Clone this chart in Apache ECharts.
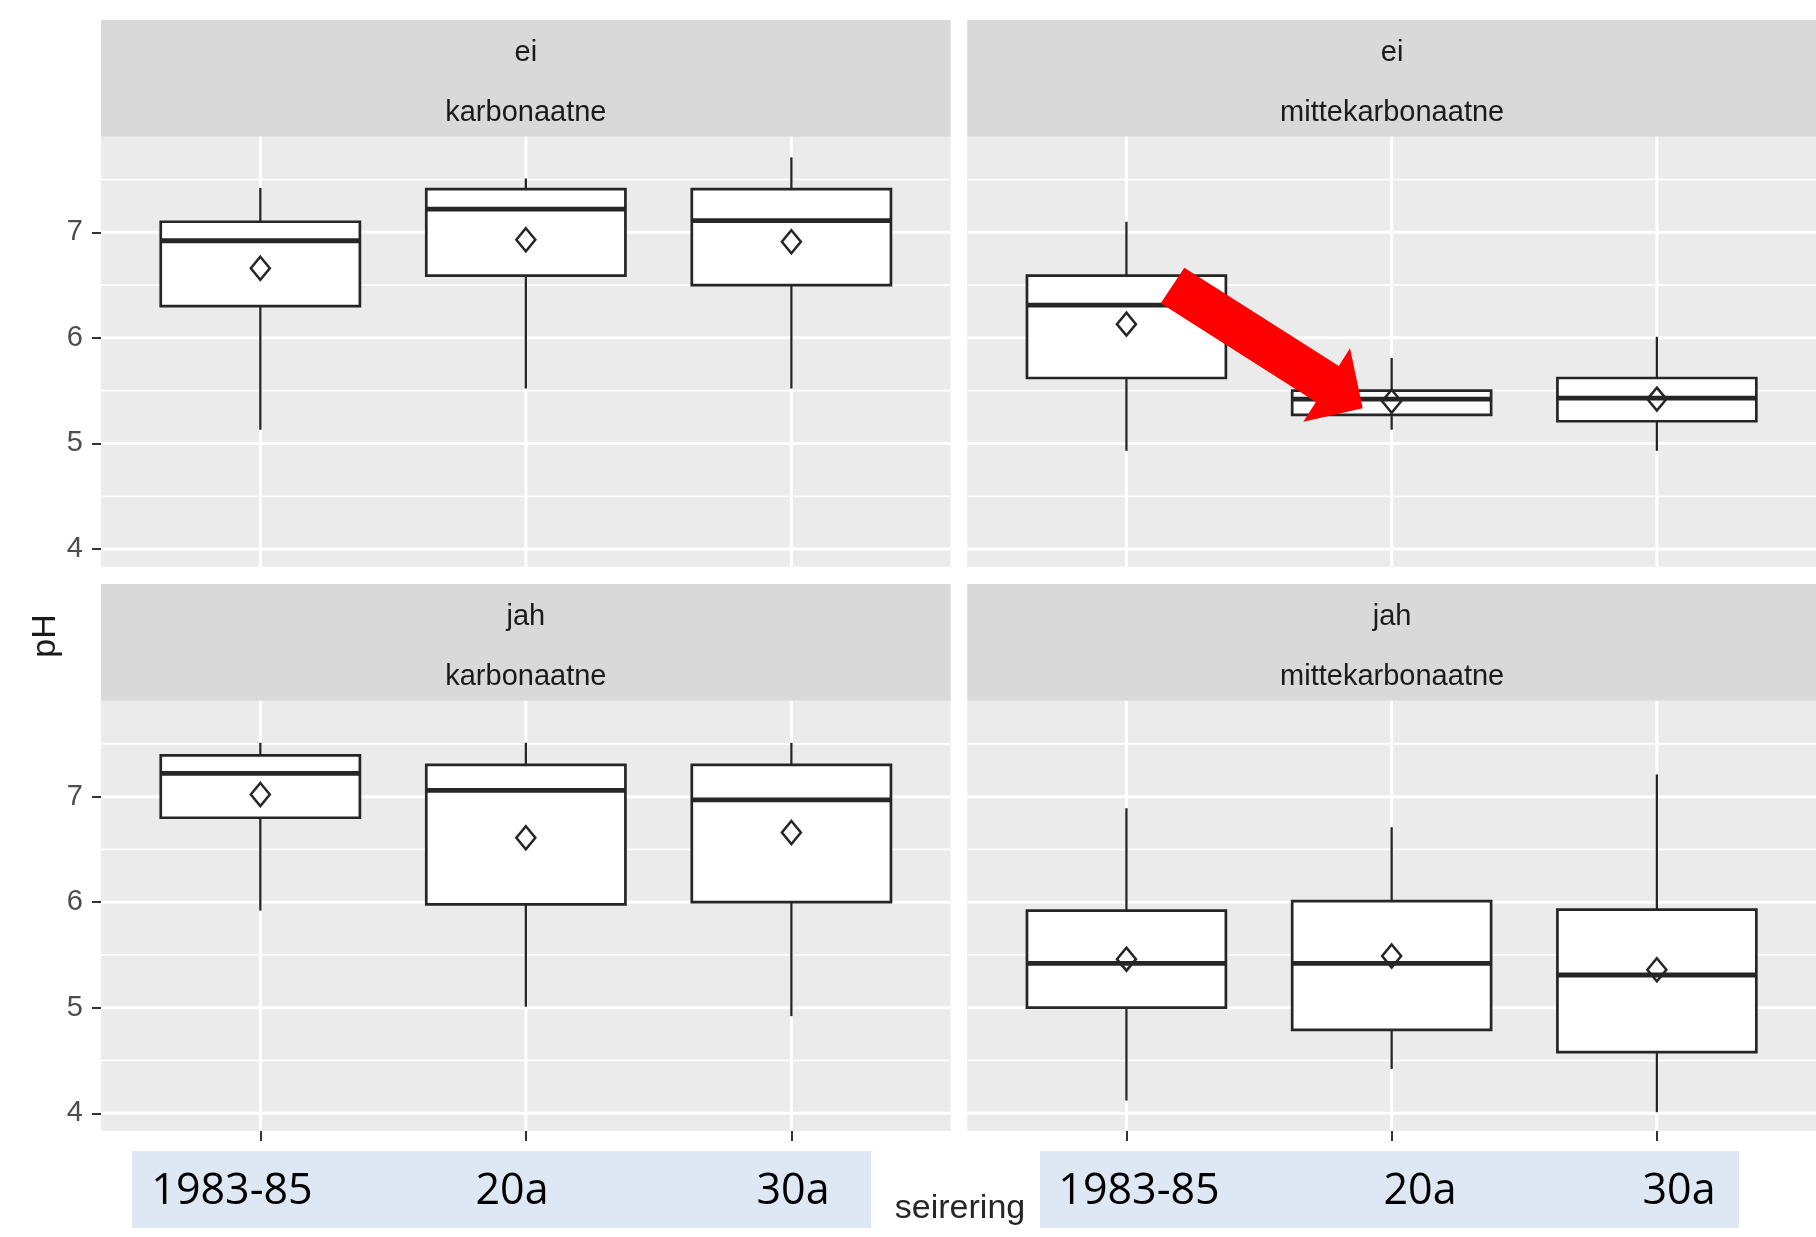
<!DOCTYPE html>
<html>
<head>
<meta charset="utf-8">
<script src="https://cdn.jsdelivr.net/npm/echarts@6/dist/echarts.min.js"></script>
<style>
  html, body { margin: 0; padding: 0; background: #ffffff; }
  #chart { width: 1816px; height: 1237px; }
</style>
</head>
<body>
<div id="chart"></div>
<script>
// Monitoring periods (x categories) and facet labels
const periods = ['1983-85', '20a', '30a'];
const rowLabels = ['ei', 'jah'];
const colLabels = ['karbonaatne', 'mittekarbonaatne'];
const yTicks = [4, 5, 6, 7];
const yMinor = [4.5, 5.5, 6.5, 7.5];

// Box statistics per period: [lower whisker, Q1, median, Q3, upper whisker]
const eiKarbBox = [[5.13, 6.30, 6.92, 7.10, 7.42], [5.52, 6.59, 7.22, 7.41, 7.51], [5.52, 6.50, 7.11, 7.41, 7.71]];
const eiKarbMean = [6.66, 6.93, 6.91];
const eiMitteBox = [[4.93, 5.62, 6.31, 6.59, 7.10], [5.13, 5.27, 5.42, 5.50, 5.81], [4.93, 5.21, 5.43, 5.62, 6.01]];
const eiMitteMean = [6.13, 5.40, 5.42];
const jahKarbBox = [[5.92, 6.80, 7.22, 7.39, 7.51], [5.01, 5.98, 7.06, 7.30, 7.51], [4.92, 6.00, 6.97, 7.30, 7.51]];
const jahKarbMean = [7.02, 6.61, 6.66];
const jahMitteBox = [[4.12, 5.00, 5.42, 5.92, 6.89], [4.42, 4.79, 5.42, 6.01, 6.71], [4.01, 4.58, 5.31, 5.93, 7.21]];
const jahMitteMean = [5.46, 5.49, 5.36];

const panels = [
  { row: 0, col: 0, box: eiKarbBox, mean: eiKarbMean },
  { row: 0, col: 1, box: eiMitteBox, mean: eiMitteMean },
  { row: 1, col: 0, box: jahKarbBox, mean: jahKarbMean },
  { row: 1, col: 1, box: jahMitteBox, mean: jahMitteMean }
];

// Facet layout (pixels)
const panelLeft = [101, 967.3];
const panelWidth = 849.7;
const stripTop = [20, 584];
const stripH = 116.7;
const panelTop = [136.7, 701];
const panelH = 430;

const Y_MIN = 3.832, Y_MAX = 7.906;
const X_MIN = 0.4, X_MAX = 3.6;
const INK = '#262626';
const BASE_FONT = '"Liberation Sans", Arial, sans-serif';

const chart = echarts.init(document.getElementById('chart'), null, { renderer: 'canvas' });

const grids = [], xAxes = [], yAxes = [], series = [];

// Background grid lines drawn through the axis scales
function gridRenderer(params, api) {
  const cs = params.coordSys;
  const kind = api.value(0);
  const v = api.value(1);
  if (kind === 2) {
    const p = api.coord([v, 5]);
    return { type: 'line', shape: { x1: p[0], y1: cs.y, x2: p[0], y2: cs.y + cs.height },
      style: { stroke: '#ffffff', lineWidth: 3 } };
  }
  const p = api.coord([1, v]);
  return { type: 'line', shape: { x1: cs.x, y1: p[1], x2: cs.x + cs.width, y2: p[1] },
    style: { stroke: '#ffffff', lineWidth: kind === 0 ? 3 : 1.6 } };
}

// Box, whiskers, median and mean marker
function boxRenderer(params, api) {
  const x = api.value(0);
  const half = api.size([0.75, 0])[0] / 2;
  const at = (i) => api.coord([x, api.value(i)]);
  const pLow = at(1), pQ1 = at(2), pMed = at(3), pQ3 = at(4), pHigh = at(5), pMean = at(6);
  const cx = pLow[0];
  const dw = 9.5, dh = 11.5;
  return {
    type: 'group',
    children: [
      { type: 'line', shape: { x1: cx, y1: pLow[1], x2: cx, y2: pQ1[1] }, style: { stroke: INK, lineWidth: 2.3 } },
      { type: 'line', shape: { x1: cx, y1: pQ3[1], x2: cx, y2: pHigh[1] }, style: { stroke: INK, lineWidth: 2.3 } },
      { type: 'rect', shape: { x: cx - half, y: pQ3[1], width: 2 * half, height: pQ1[1] - pQ3[1] },
        style: { fill: '#ffffff', stroke: INK, lineWidth: 2.7 } },
      { type: 'line', shape: { x1: cx - half, y1: pMed[1], x2: cx + half, y2: pMed[1] }, style: { stroke: INK, lineWidth: 4.8 } },
      { type: 'polygon', shape: { points: [[pMean[0], pMean[1] - dh], [pMean[0] + dw, pMean[1]], [pMean[0], pMean[1] + dh], [pMean[0] - dw, pMean[1]]] },
        style: { fill: 'none', stroke: INK, lineWidth: 2.5 } }
    ]
  };
}

const gridLineData = [];
yTicks.forEach(v => gridLineData.push([0, v]));
yMinor.forEach(v => gridLineData.push([1, v]));
periods.forEach((p, i) => gridLineData.push([2, i + 1]));

panels.forEach((pn, idx) => {
  const isLeft = pn.col === 0;
  const isBottom = pn.row === 1;
  grids.push({ left: panelLeft[pn.col], top: panelTop[pn.row], width: panelWidth, height: panelH,
    show: true, backgroundColor: '#ebebeb', borderWidth: 0 });
  xAxes.push({
    type: 'value', gridIndex: idx, min: X_MIN, max: X_MAX,
    axisLine: { show: false }, splitLine: { show: false },
    axisTick: { show: isBottom, customValues: [1, 2, 3], length: 10, lineStyle: { color: '#333333', width: 2 } },
    axisLabel: { show: false }
  });
  yAxes.push({
    type: 'value', gridIndex: idx, min: Y_MIN, max: Y_MAX,
    axisLine: { show: false }, splitLine: { show: false },
    axisTick: { show: isLeft, customValues: yTicks, length: 9, lineStyle: { color: '#333333', width: 2 } },
    axisLabel: { show: isLeft, customValues: yTicks, color: '#4d4d4d', fontSize: 29, margin: 18, fontFamily: BASE_FONT }
  });
  series.push({
    type: 'custom', xAxisIndex: idx, yAxisIndex: idx, z: 1, silent: true,
    renderItem: gridRenderer, data: gridLineData
  });
  series.push({
    type: 'custom', name: rowLabels[pn.row] + ' / ' + colLabels[pn.col], xAxisIndex: idx, yAxisIndex: idx, z: 3,
    renderItem: boxRenderer,
    data: periods.map((p, i) => [i + 1].concat(pn.box[i], [pn.mean[i]]))
  });
});

// Facet strips
const graphics = [];
[0, 1].forEach(r => {
  [0, 1].forEach(c => {
    const cx = panelLeft[c] + panelWidth / 2;
    graphics.push({ type: 'rect', left: panelLeft[c], top: stripTop[r], z: 0,
      shape: { width: panelWidth, height: stripH }, style: { fill: '#d9d9d9' } });
    graphics.push({ type: 'text', x: cx, y: stripTop[r] + 33, z: 5,
      style: { text: rowLabels[r], fill: '#1a1a1a', font: '29px ' + BASE_FONT, align: 'center', verticalAlign: 'middle' } });
    graphics.push({ type: 'text', x: cx, y: stripTop[r] + 93, z: 5,
      style: { text: colLabels[c], fill: '#1a1a1a', font: '29px ' + BASE_FONT, align: 'center', verticalAlign: 'middle' } });
  });
});

// Period labels on shaded bands beneath the lower panels
const bandX = [[132, 871], [1040, 1739]];
const bandLabelX = [[232, 512, 793], [1139, 1420, 1679]];
bandX.forEach((b, k) => {
  graphics.push({ type: 'rect', left: b[0], top: 1151, z: 0,
    shape: { width: b[1] - b[0], height: 77 }, style: { fill: '#dde8f4' } });
  periods.forEach((p, i) => {
    graphics.push({ type: 'text', x: bandLabelX[k][i], y: 1192, z: 5,
      style: { text: p, fill: '#000000', font: '43px "Open Sans", sans-serif', align: 'center', verticalAlign: 'middle' } });
  });
});

// Axis titles
graphics.push({ type: 'text', x: 960, y: 1209, z: 5,
  style: { text: 'seirering', fill: '#262626', font: '34px ' + BASE_FONT, align: 'center', verticalAlign: 'middle' } });
graphics.push({ type: 'text', x: 46, y: 636, z: 5, rotation: Math.PI / 2,
  style: { text: 'pH', fill: '#1a1a1a', font: '34px ' + BASE_FONT, align: 'center', verticalAlign: 'middle' } });

// Red arrow highlighting the drop after the first period
graphics.push({ type: 'polygon', z: 10,
  shape: { points: [[1184.3, 267.7], [1338.8, 365.9], [1350, 348.3], [1362.7, 408.3], [1303.3, 421.7], [1315.9, 402], [1160.7, 303.3]] },
  style: { fill: '#ff0000' } });

chart.setOption({
  backgroundColor: '#ffffff',
  animation: false,
  grid: grids,
  xAxis: xAxes,
  yAxis: yAxes,
  series: series,
  graphic: graphics
});
</script>
</body>
</html>
